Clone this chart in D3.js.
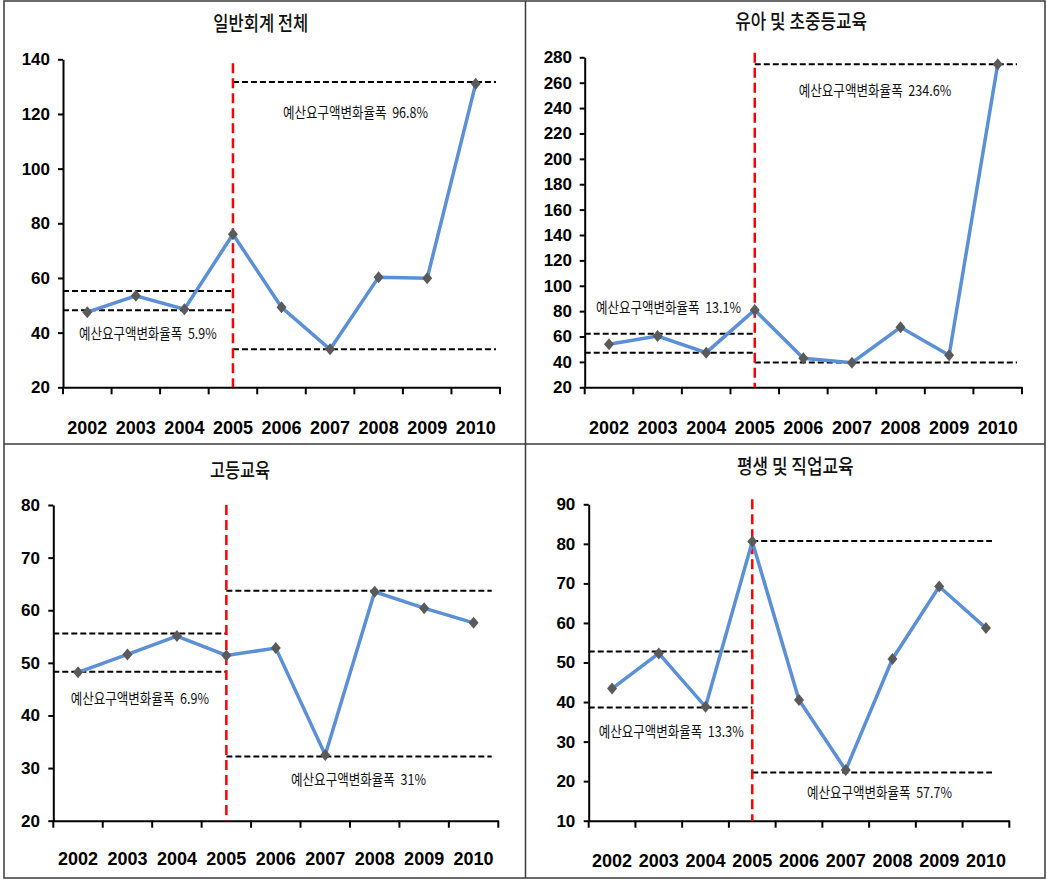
<!DOCTYPE html>
<html>
<head>
<meta charset="utf-8">
<script src="https://cdn.jsdelivr.net/npm/d3@7"></script>
<style>
  html, body { margin: 0; padding: 0; background: #fff; }
  svg { display: block; }
  text.pre { white-space: pre; }
</style>
</head>
<body>
<svg id="chart" width="1047" height="880"></svg>
<script>
// ---------------- data ----------------
const years = ["2002","2003","2004","2005","2006","2007","2008","2009","2010"];
const splitYear = "2005";

const titles = ["일반회계 전체", "유아 및 초중등교육", "고등교육", "평생 및 직업교육"];

const generalTotal   = [47.5, 53.5, 48.6, 76.0, 49.3, 33.9, 60.3, 59.9, 131.1];
const earlyPrimSec   = [53.9, 60.4, 47.3, 80.9, 42.9, 39.4, 67.3, 45.2, 274.5];
const higherEdu      = [48.2, 51.6, 55.1, 51.4, 52.8, 32.5, 63.5, 60.4, 57.6];
const lifelongVoc    = [43.4, 52.3, 38.8, 80.6, 40.5, 22.8, 50.9, 69.2, 58.7];

// range bands [low, high] before and after 2005
const rangeBefore = [[48.2, 55.2], [47.3, 62.2], [48.3, 55.6], [38.6, 52.8]];
const rangeAfter  = [[33.9, 131.7], [39.6, 274.5], [32.2, 63.7], [22.2, 80.7]];

const labelBefore = ["예산요구액변화율폭  5.9%", "예산요구액변화율폭  13.1%", "예산요구액변화율폭  6.9%", "예산요구액변화율폭  13.3%"];
const labelAfter  = ["예산요구액변화율폭  96.8%", "예산요구액변화율폭  234.6%", "예산요구액변화율폭  31%", "예산요구액변화율폭  57.7%"];

const yDomains = [[20, 140], [20, 280], [20, 80], [10, 90]];
const yTickSteps = [20, 20, 10, 10];

const seriesList = [generalTotal, earlyPrimSec, higherEdu, lifelongVoc];

// ---------------- layout (positions only) ----------------
const layout = [
  { x0: 63,    x1: 500,    yTop: 59.3,  yBot: 387.3, redTop: 63.3,  dashEnd: 496,
    title: [213.3, 308.3, 26], yearY: 428, tickLabelX: 50,
    before: [79, 216.7, 334.5], after: [283, 428, 113.5] },
  { x0: 584.7, x1: 1022,   yTop: 57.3,  yBot: 387.3, redTop: 52.7,  dashEnd: 1017,
    title: [735.3, 867, 24], yearY: 428, tickLabelX: 572,
    before: [596, 741, 308.8], after: [798.7, 951.3, 92] },
  { x0: 53.3,  x1: 498.3,  yTop: 505,   yBot: 820.7, redTop: 505,   dashEnd: 491.7,
    title: [210, 270, 472.5], yearY: 859, tickLabelX: 40,
    before: [70.7, 209, 699.7], after: [291, 426, 780.8] },
  { x0: 588.7, x1: 1009.3, yTop: 504.3, yBot: 820.7, redTop: 499.3, dashEnd: 992,
    title: [737, 853.7, 468.3], yearY: 861, tickLabelX: 575.3,
    before: [598.7, 743.7, 732.5], after: [807, 952, 794] }
];

const svg = d3.select("#chart");

// frame
const frame = svg.append("g").attr("stroke", "#3a3a3a").attr("stroke-width", 1.5).attr("fill", "none");
frame.append("rect").attr("x", 4).attr("y", 1).attr("width", 1041).attr("height", 877);
frame.append("line").attr("x1", 525.5).attr("x2", 525.5).attr("y1", 1).attr("y2", 878);
frame.append("line").attr("x1", 4).attr("x2", 1045).attr("y1", 444).attr("y2", 444);

const numFont = "'Liberation Sans Narrow', 'Arial Narrow', 'Liberation Sans', sans-serif";
const krFont = "'Noto Sans CJK KR', 'Noto Sans', sans-serif";

// custom diamond: 10 wide x 12 tall
const diamondType = {
  draw(ctx) {
    ctx.moveTo(0, -6); ctx.lineTo(5, 0); ctx.lineTo(0, 6); ctx.lineTo(-5, 0); ctx.closePath();
  }
};

seriesList.forEach((values, i) => {
  const L = layout[i];
  const g = svg.append("g");

  const x = d3.scaleBand().domain(years).range([L.x0, L.x1]).padding(0);
  const y = d3.scaleLinear().domain(yDomains[i]).range([L.yBot, L.yTop]);
  const cx = d => x(d) + x.bandwidth() / 2;

  // title
  g.append("text")
    .attr("x", L.title[0]).attr("y", L.title[2])
    .attr("dominant-baseline", "middle")
    .attr("textLength", L.title[1] - L.title[0])
    .attr("lengthAdjust", "spacingAndGlyphs")
    .style("font-family", krFont).style("font-size", "20px").style("font-weight", "500").style("fill", "#111")
    .text(titles[i]);

  // y axis
  const [d0, d1] = yDomains[i];
  const yTicks = d3.range(d0, d1 + 0.001, yTickSteps[i]);
  const yAxis = g.append("g").attr("transform", `translate(${L.x0},0)`)
    .call(d3.axisLeft(y).tickValues(yTicks).tickSize(5).tickSizeOuter(0).tickPadding(8));
  yAxis.select(".domain").attr("stroke", "#000").attr("stroke-width", 2);
  yAxis.selectAll(".tick line").attr("stroke", "#000").attr("stroke-width", 2);
  yAxis.selectAll(".tick text")
    .attr("x", L.tickLabelX - L.x0)
    .style("font-family", numFont).style("font-weight", "bold").style("font-size", "17px").style("fill", "#000");

  // x axis
  const xAxis = g.append("g").attr("transform", `translate(0,${L.yBot})`)
    .call(d3.axisBottom(x).tickSize(0).tickSizeOuter(0).tickPadding(0));
  xAxis.select(".domain").attr("stroke", "#000").attr("stroke-width", 2);
  xAxis.selectAll(".tick text")
    .attr("y", L.yearY - L.yBot).attr("dy", "0.35em")
    .style("font-family", numFont).style("font-weight", "bold").style("font-size", "18px").style("fill", "#000");
  // tick marks at band boundaries
  const bounds = years.map(d => x(d)).concat([L.x1]);
  g.append("g").selectAll("line").data(bounds).join("line")
    .attr("x1", d => d).attr("x2", d => d)
    .attr("y1", L.yBot).attr("y2", L.yBot + 7)
    .attr("stroke", "#000").attr("stroke-width", 2);

  // range dashed lines
  const xs = cx(splitYear);
  const dashG = g.append("g").attr("stroke", "#000").attr("stroke-width", 2).attr("stroke-dasharray", "6,3");
  rangeBefore[i].forEach(v => {
    dashG.append("line").attr("x1", L.x0).attr("x2", xs).attr("y1", y(v)).attr("y2", y(v));
  });
  rangeAfter[i].forEach(v => {
    dashG.append("line").attr("x1", xs).attr("x2", L.dashEnd).attr("y1", y(v)).attr("y2", y(v));
  });

  // red vertical split line
  g.append("line")
    .attr("x1", xs).attr("x2", xs).attr("y1", L.redTop).attr("y2", L.yBot)
    .attr("stroke", "#ff0000").attr("stroke-width", 2.5).attr("stroke-dasharray", "10,5");

  // series line
  const line = d3.line().x((d, j) => cx(years[j])).y(d => y(d));
  g.append("path").datum(values)
    .attr("d", line)
    .attr("fill", "none").attr("stroke", "#5b8fd6").attr("stroke-width", 3.5)
    .attr("stroke-linejoin", "miter");

  // diamond markers
  const diamond = d3.symbol().type(diamondType);
  g.append("g").selectAll("path").data(values).join("path")
    .attr("transform", (d, j) => `translate(${cx(years[j])},${y(d)})`)
    .attr("d", diamond)
    .attr("fill", "#5a5a5a");

  // annotations
  [[L.before, labelBefore[i]], [L.after, labelAfter[i]]].forEach(([p, t]) => {
    g.append("text").attr("class", "pre")
      .attr("x", p[0]).attr("y", p[2])
      .attr("dominant-baseline", "middle")
      .attr("textLength", p[1] - p[0])
      .attr("lengthAdjust", "spacingAndGlyphs")
      .style("font-family", krFont).style("font-size", "15px").style("fill", "#111")
      .text(t);
  });
});
</script>
</body>
</html>
